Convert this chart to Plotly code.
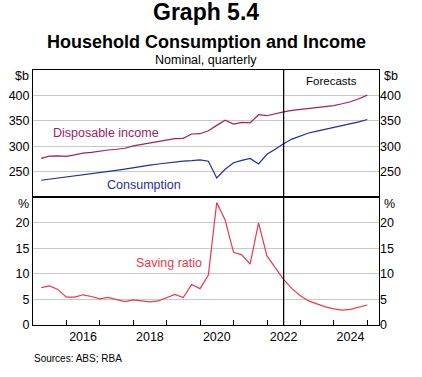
import plotly.graph_objects as go
from plotly.subplots import make_subplots
import pandas as pd

# ---- data ----
quarters = pd.period_range("2015Q1", "2024Q4", freq="Q")
dates = [p.end_time.strftime("%Y-%m-%d") for p in quarters]

disposable_income_hist = [276, 280.5, 281, 280, 283, 286.5, 288, 291, 292.5, 294,
                          296, 300.5, 303.5, 305.7, 309, 312, 314.8, 315.4, 324, 324.6,
                          330.5, 341, 351, 343.5, 347, 346, 362, 360, 364, 367.5]
disposable_income_fcst = [370.5, 372.5, 374, 376, 378, 380, 383.5, 387.5, 393.5, 400.5]

consumption_hist = [233, 235, 237, 239.5, 241.5, 243.5, 245.5, 247.5, 250, 252.5,
                    255, 258, 260.5, 262.7, 265, 267, 269, 270.5, 271.5, 273,
                    270.5, 237.5, 254.5, 267.5, 272, 276, 265, 284, 294, 305]
consumption_fcst = [314, 320.5, 326, 329.5, 333, 336.5, 340, 344, 348, 352.5]

saving_ratio_hist = [7.3, 7.65, 6.95, 5.45, 5.45, 5.9, 5.57, 5.12, 5.38, 4.92,
                     4.55, 4.92, 4.73, 4.5, 4.7, 5.4, 5.97, 5.35, 7.9, 7.1,
                     9.75, 23.9, 20.5, 14.2, 13.7, 11.9, 19.95, 13.5, 11.1, 8.9]
saving_ratio_fcst = [7.1, 5.7, 4.7, 4.05, 3.55, 3.15, 2.9, 3.05, 3.45, 3.9]

forecast_start = "2022-07-01"
year_labels = ["2016", "2018", "2020", "2022", "2024"]
year_boundaries = [str(y) for y in range(2016, 2026)]
top_ticks = [250, 300, 350, 400]
bottom_ticks = [0, 5, 10, 15, 20]

disposable_income = disposable_income_hist + disposable_income_fcst
consumption = consumption_hist + consumption_fcst
saving_ratio = saving_ratio_hist + saving_ratio_fcst

# ---- styling ----
FONT = "Liberation Sans, Arial, sans-serif"
C_DI = "#a0205e"
C_CONS = "#1e2f9c"
C_SAV = "#e8394f"
GRID = "#c8c8c8"

W, H = 422, 377
L, R, T, B = 33, 379, 70, 325
MID = 197


def px(x):
    return (x - L) / (R - L)


def py(y):
    return (B - y) / (B - T)


fig = make_subplots(rows=2, cols=1, shared_xaxes=True, vertical_spacing=0)

fig.add_trace(go.Scatter(x=dates, y=disposable_income, mode="lines",
                         line=dict(color=C_DI, width=1.2), name="Disposable income"),
              row=1, col=1)
fig.add_trace(go.Scatter(x=dates, y=consumption, mode="lines",
                         line=dict(color=C_CONS, width=1.2), name="Consumption"),
              row=1, col=1)
fig.add_trace(go.Scatter(x=dates, y=saving_ratio, mode="lines",
                         line=dict(color=C_SAV, width=1.2), name="Saving ratio"),
              row=2, col=1)
# empty traces to carry the right-hand mirror axes
fig.add_trace(go.Scatter(x=[], y=[], xaxis="x", yaxis="y3", showlegend=False))
fig.add_trace(go.Scatter(x=[], y=[], xaxis="x2", yaxis="y4", showlegend=False))

xrange = ["2015-01-01", "2025-05-08"]
split = (B - MID) / (B - T)

axis_font = dict(family=FONT, size=12.5, color="black")

fig.update_layout(
    width=W, height=H,
    margin=dict(l=L, r=W - R, t=T, b=H - B, pad=0, autoexpand=False),
    paper_bgcolor="white", plot_bgcolor="white",
    showlegend=False,
    font=dict(family=FONT, color="black"),
    xaxis=dict(range=xrange, showticklabels=False, ticks="", showgrid=False,
               showline=True, linecolor="black", linewidth=1, mirror=True,
               zeroline=False, automargin=False),
    xaxis2=dict(range=xrange, showgrid=False, showline=True, linecolor="black",
                linewidth=1, mirror=True, zeroline=False, automargin=False,
                tickmode="array",
                tickvals=[y + "-07-01" for y in year_labels], ticktext=year_labels,
                ticks="inside", ticklen=0, tickfont=axis_font,
                minor=dict(tickmode="array", tickvals=[y + "-01-01" for y in year_boundaries],
                           ticks="inside", ticklen=5, tickcolor="black", tickwidth=1,
                           showgrid=False)),
    yaxis=dict(domain=[split, 1], range=[200, 450], tickmode="array", tickvals=top_ticks,
               showgrid=True, gridcolor=GRID, gridwidth=1, zeroline=False,
               showline=True, linecolor="black", linewidth=1, mirror=True,
               ticks="", tickfont=axis_font, automargin=False),
    yaxis2=dict(domain=[0, split], range=[0, 25], tickmode="array", tickvals=bottom_ticks,
                showgrid=True, gridcolor=GRID, gridwidth=1, zeroline=False,
                showline=True, linecolor="black", linewidth=1, mirror=True,
                ticks="", tickfont=axis_font, automargin=False),
    yaxis3=dict(overlaying="y", side="right", anchor="x", range=[200, 450],
                tickmode="array", tickvals=top_ticks, showgrid=False, zeroline=False,
                showline=False, ticks="", tickfont=axis_font, automargin=False),
    yaxis4=dict(overlaying="y2", side="right", anchor="x2", range=[0, 25],
                tickmode="array", tickvals=bottom_ticks, showgrid=False, zeroline=False,
                showline=False, ticks="", tickfont=axis_font, automargin=False),
)

# divider and forecast line
fig.add_shape(type="line", xref="paper", yref="paper", x0=0, x1=1, y0=split, y1=split,
              line=dict(color="black", width=1))
fig.add_shape(type="line", xref="x2", yref="paper", x0=forecast_start, x1=forecast_start,
              y0=0, y1=1, line=dict(color="black", width=1.3))


def note(text, x, y, size, color="black", xanchor="center", bold=False):
    fig.add_annotation(text=f"<b>{text}</b>" if bold else text,
                       xref="paper", yref="paper", x=px(x), y=py(y),
                       xanchor=xanchor, yanchor="middle", showarrow=False,
                       font=dict(family=FONT, size=size, color=color))


note("Graph 5.4", 206, 12, 23, bold=True)
note("Household Consumption and Income", 206, 42.5, 18, bold=True)
note("Nominal, quarterly", 206, 60, 12.5)
note("Forecasts", 331.5, 81, 11.5)
note("Disposable income", 105.8, 133.3, 12.5, color=C_DI)
note("Consumption", 144.2, 185, 12.5, color=C_CONS)
note("Saving ratio", 168.7, 263.3, 12.5, color=C_SAV)
note("$b", 30.5, 75.5, 12.5, xanchor="right")
note("$b", 381.5, 75.5, 12.5, xanchor="left")
note("%", 30.5, 204, 12.5, xanchor="right")
note("%", 381.5, 204, 12.5, xanchor="left")
note("Sources: ABS; RBA", 31.5, 358, 10, xanchor="left")

fig.write_html("out.html",
               config={"displayModeBar": False, "staticPlot": True},
               post_script="document.body.style.margin='0';document.body.style.padding='0';")
